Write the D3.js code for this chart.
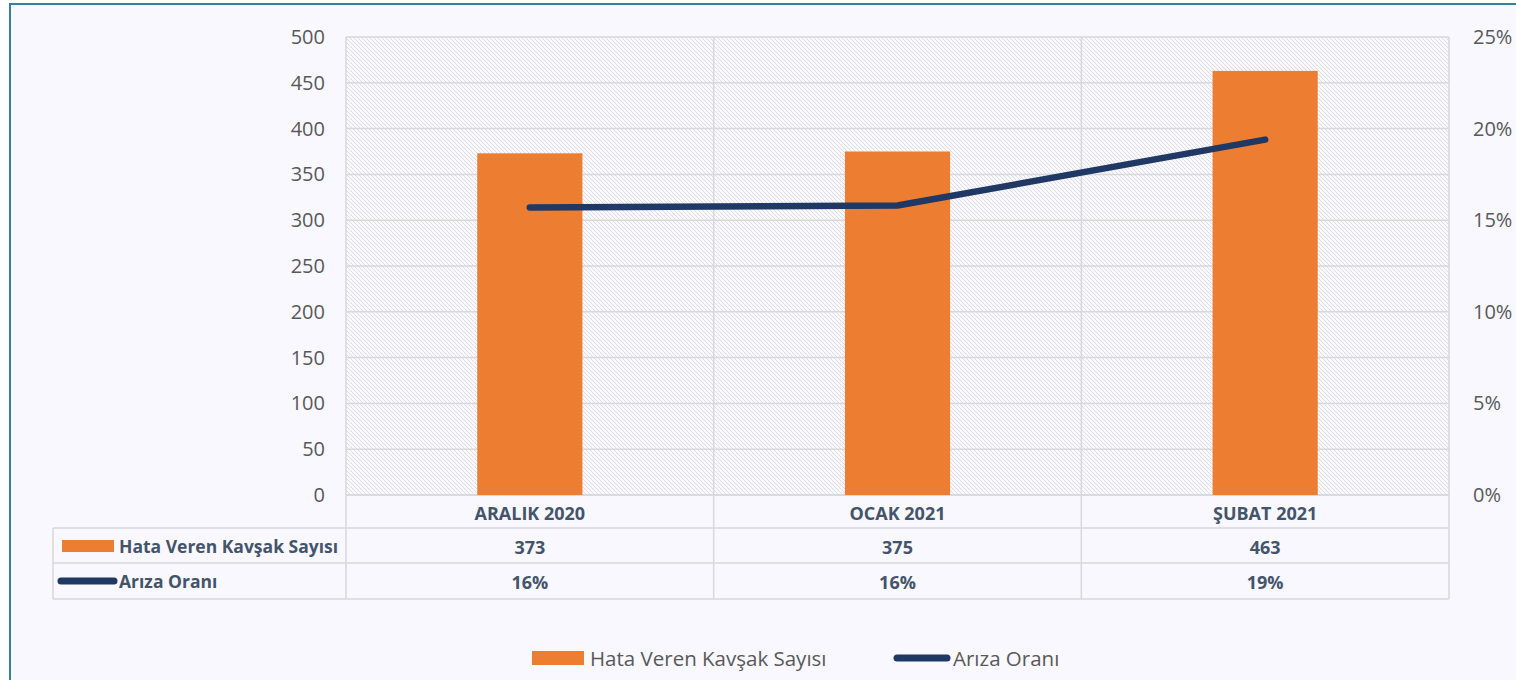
<!DOCTYPE html>
<html>
<head>
<meta charset="utf-8">
<script src="https://cdn.jsdelivr.net/npm/d3@7/dist/d3.min.js"></script>
<style>
  html, body { margin: 0; padding: 0; background: #ffffff; }
  svg { display: block; }
</style>
</head>
<body>
<svg id="chart" width="1516" height="680"></svg>
<script>
// Monthly data
const categories = ["ARALIK 2020", "OCAK 2021", "ŞUBAT 2021"];
const faultyJunctions = [373, 375, 463];
const failureRate = [0.157, 0.158, 0.194];
const leftTicks = [0, 50, 100, 150, 200, 250, 300, 350, 400, 450, 500];
const rightTicks = [0, 0.05, 0.10, 0.15, 0.20, 0.25];
const seriesNames = ["Hata Veren Kavşak Sayısı", "Arıza Oranı"];

const BAR = "#ED7D31", LINE = "#1F3864", GRID = "#d9d9d9";
const TICK_COL = "#595959", TABLE_COL = "#44546A";
const FONT = "'Open Sans', sans-serif";

const svg = d3.select("#chart");

// frame
svg.append("rect").attr("x", 10).attr("y", 4).attr("width", 1520).attr("height", 690)
  .attr("fill", "#F8F8FE").attr("stroke", "#31849B").attr("stroke-width", 2);

const plot = { left: 346, right: 1449, top: 37, bottom: 495 };

const x = d3.scaleBand().domain(categories).range([plot.left, plot.right])
  .paddingInner(0.714).paddingOuter(0.357);
const xCell = d3.scaleBand().domain(categories).range([plot.left, plot.right]);
const yL = d3.scaleLinear().domain([0, 500]).range([plot.bottom, plot.top]);
const yR = d3.scaleLinear().domain([0, 0.25]).range([plot.bottom, plot.top]);

// hatch pattern for plot background
const defs = svg.append("defs");
const pat = defs.append("pattern").attr("id", "hatch").attr("patternUnits", "userSpaceOnUse")
  .attr("width", 4).attr("height", 4);
pat.append("path").attr("d", "M-1,-1 L5,5 M-1,3 L1,5 M3,-1 L5,1")
  .attr("stroke", "#dedede").attr("stroke-width", 1);

svg.append("rect").attr("x", plot.left).attr("y", plot.top)
  .attr("width", plot.right - plot.left).attr("height", plot.bottom - plot.top)
  .attr("fill", "url(#hatch)");

// horizontal gridlines
svg.append("g").selectAll("line").data(leftTicks).join("line")
  .attr("x1", plot.left).attr("x2", plot.right)
  .attr("y1", d => yL(d)).attr("y2", d => yL(d))
  .attr("stroke", GRID).attr("stroke-width", 1.5);

// vertical category separators, extended through the data table
const tableBottom = 599;
const rowLines = [plot.bottom, 528, 563, tableBottom];
const colEdges = categories.map(c => xCell(c)).concat([plot.right]);
svg.append("g").selectAll("line").data(colEdges).join("line")
  .attr("x1", d => d).attr("x2", d => d)
  .attr("y1", plot.top).attr("y2", tableBottom)
  .attr("stroke", GRID).attr("stroke-width", 1.5);

// table horizontal rules
const tableLeft = 53;
svg.append("g").selectAll("line").data(rowLines).join("line")
  .attr("x1", (d, i) => i === 0 ? plot.left : tableLeft).attr("x2", plot.right)
  .attr("y1", d => d).attr("y2", d => d)
  .attr("stroke", GRID).attr("stroke-width", 1.5);
svg.append("line").attr("x1", tableLeft).attr("x2", tableLeft)
  .attr("y1", 528).attr("y2", tableBottom).attr("stroke", GRID).attr("stroke-width", 1.5);

// bars
svg.append("g").selectAll("rect").data(categories).join("rect")
  .attr("x", d => x(d)).attr("width", x.bandwidth())
  .attr("y", (d, i) => yL(faultyJunctions[i]))
  .attr("height", (d, i) => yL(0) - yL(faultyJunctions[i]))
  .attr("fill", BAR);

// rate line
const line = d3.line()
  .x((d, i) => xCell(categories[i]) + xCell.bandwidth() / 2)
  .y(d => yR(d));
svg.append("path").datum(failureRate).attr("d", line)
  .attr("fill", "none").attr("stroke", LINE).attr("stroke-width", 6.5)
  .attr("stroke-linecap", "round").attr("stroke-linejoin", "round");

// left axis
const axL = svg.append("g").attr("transform", `translate(${plot.left},0)`)
  .call(d3.axisLeft(yL).tickValues(leftTicks).tickSize(0).tickPadding(21));
axL.select(".domain").remove();
axL.selectAll("text").attr("font-family", FONT).attr("font-size", 20).attr("fill", TICK_COL);

// right axis
const axR = svg.append("g").attr("transform", `translate(${plot.right},0)`)
  .call(d3.axisRight(yR).tickValues(rightTicks).tickSize(0).tickPadding(24).tickFormat(d3.format(".0%")));
axR.select(".domain").remove();
axR.selectAll("text").attr("font-family", FONT).attr("font-size", 20).attr("fill", TICK_COL);

// data table texts
const cellText = (y, values) => svg.append("g").selectAll("text").data(categories).join("text")
  .attr("x", d => xCell(d) + xCell.bandwidth() / 2).attr("y", y)
  .attr("text-anchor", "middle").attr("font-family", FONT).attr("font-weight", 700)
  .attr("font-size", 18).attr("fill", TABLE_COL)
  .text((d, i) => values[i]);
cellText(520, categories);
cellText(554, faultyJunctions.map(v => String(v)));
cellText(589, failureRate.map(v => d3.format(".0%")(v)));

// row headers with series keys
svg.append("rect").attr("x", 62).attr("y", 540).attr("width", 52).attr("height", 12).attr("fill", BAR);
svg.append("text").attr("x", 119).attr("y", 553).attr("font-family", FONT).attr("font-weight", 700)
  .attr("font-size", 17.5).attr("fill", TABLE_COL).text(seriesNames[0]);
svg.append("line").attr("x1", 61).attr("x2", 114).attr("y1", 581).attr("y2", 581)
  .attr("stroke", LINE).attr("stroke-width", 7).attr("stroke-linecap", "round");
svg.append("text").attr("x", 119).attr("y", 588).attr("font-family", FONT).attr("font-weight", 700)
  .attr("font-size", 17.5).attr("fill", TABLE_COL).text(seriesNames[1]);

// legend
const lg = svg.append("g");
lg.append("rect").attr("x", 532).attr("y", 651).attr("width", 52).attr("height", 14).attr("fill", BAR);
lg.append("text").attr("x", 590).attr("y", 666).attr("font-family", FONT).attr("font-size", 20.5)
  .attr("fill", TICK_COL).text(seriesNames[0]);
lg.append("line").attr("x1", 897).attr("x2", 947).attr("y1", 658).attr("y2", 658)
  .attr("stroke", LINE).attr("stroke-width", 7).attr("stroke-linecap", "round");
lg.append("text").attr("x", 953).attr("y", 666).attr("font-family", FONT).attr("font-size", 20.5)
  .attr("fill", TICK_COL).text(seriesNames[1]);
</script>
</body>
</html>
